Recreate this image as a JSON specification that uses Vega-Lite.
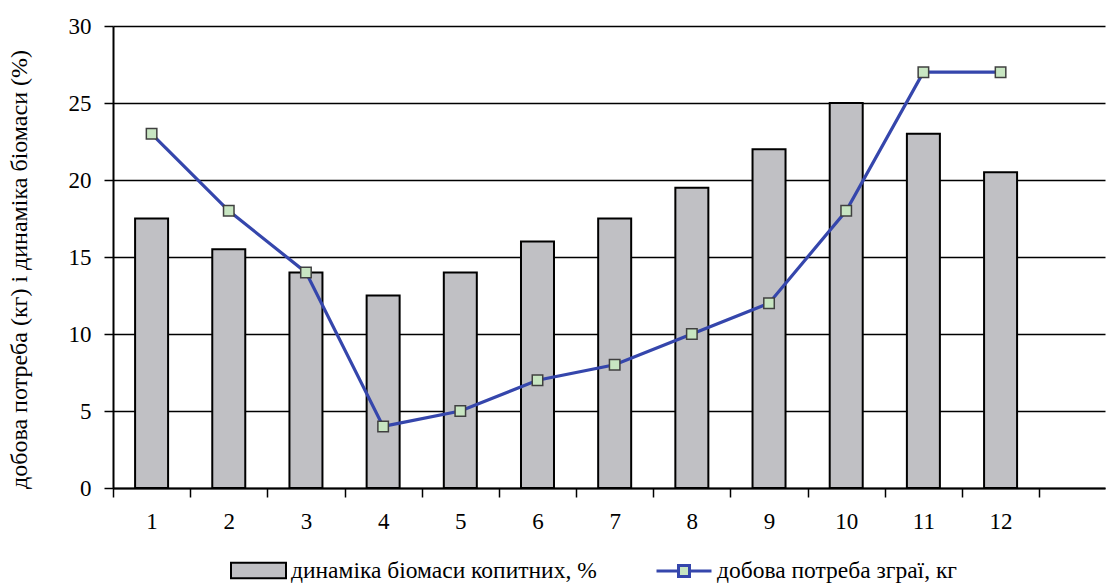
{
  "$schema": "https://vega.github.io/schema/vega-lite/v6.json",
  "width": 992,
  "height": 462,
  "autosize": "none",
  "padding": {"left": 113, "top": 26, "right": 6, "bottom": 95},
  "background": "white",
  "config": {
    "font": "Liberation Serif",
    "view": {"stroke": null},
    "axis": {
      "labelFont": "Liberation Serif",
      "titleFont": "Liberation Serif",
      "labelColor": "black",
      "labelFontSize": 23,
      "titleColor": "black",
      "titleFontSize": 24,
      "titleFontWeight": "normal",
      "domainColor": "black",
      "domainWidth": 2,
      "tickColor": "black",
      "tickWidth": 1.5,
      "tickSize": 9
    },
    "legend": {"labelFontSize": 23.5, "labelColor": "black", "labelFont": "Liberation Serif", "labelLimit": 0}
  },
  "data": {
    "values": [
      {"x": 1, "bar": 17.5, "need": 23},
      {"x": 2, "bar": 15.5, "need": 18},
      {"x": 3, "bar": 14, "need": 14},
      {"x": 4, "bar": 12.5, "need": 4},
      {"x": 5, "bar": 14, "need": 5},
      {"x": 6, "bar": 16, "need": 7},
      {"x": 7, "bar": 17.5, "need": 8},
      {"x": 8, "bar": 19.5, "need": 10},
      {"x": 9, "bar": 22, "need": 12},
      {"x": 10, "bar": 25, "need": 18},
      {"x": 11, "bar": 23, "need": 27},
      {"x": 12, "bar": 20.5, "need": 27}
    ]
  },
  "layer": [
    {
      "mark": {"type": "bar", "width": 33, "stroke": "black", "strokeWidth": 2},
      "encoding": {
        "x": {
          "field": "x",
          "type": "quantitative",
          "scale": {"domain": [0.5, 13.353], "nice": false, "zero": false, "padding": 0},
          "axis": {
            "title": null,
            "values": [0.5, 1, 1.5, 2, 2.5, 3, 3.5, 4, 4.5, 5, 5.5, 6, 6.5, 7, 7.5, 8, 8.5, 9, 9.5, 10, 10.5, 11, 11.5, 12, 12.5],
            "labelExpr": "datum.value % 1 === 0 ? format(datum.value, 'd') : ''",
            "tickOpacity": {"condition": {"test": "datum.value % 1 === 0", "value": 0}, "value": 1},
            "grid": false,
            "labelPadding": 13,
            "labelFlush": false,
            "labelOverlap": false
          }
        },
        "y": {
          "field": "bar",
          "type": "quantitative",
          "scale": {"domain": [0, 30], "nice": false},
          "axis": {
            "title": "добова потреба (кг) і динаміка біомаси (%)",
            "values": [0, 5, 10, 15, 20, 25, 30],
            "grid": true,
            "gridColor": "black",
            "gridWidth": 1.5,
            "gridOpacity": 1,
            "labelPadding": 13,
            "titlePadding": 37,
            "titleY": 243
          }
        },
        "fill": {
          "datum": "динаміка біомаси копитних, %",
          "scale": {"range": ["#c0c0c4"]},
          "legend": {
            "title": null,
            "orient": "none",
            "legendX": 117,
            "legendY": 516,
            "symbolType": "M-1,-0.28H1V0.28H-1Z",
            "symbolSize": 3025,
            "symbolStrokeColor": "black",
            "symbolStrokeWidth": 2,
            "symbolOpacity": 1
          }
        }
      }
    },
    {
      "mark": {"type": "line", "strokeWidth": 3.2},
      "encoding": {
        "x": {"field": "x", "type": "quantitative"},
        "y": {"field": "need", "type": "quantitative"},
        "stroke": {
          "datum": "добова потреба зграї, кг",
          "scale": {"range": ["#3546ac"]},
          "legend": {
            "title": null,
            "orient": "none",
            "legendX": 542,
            "legendY": 516,
            "symbolType": "M-1,0H-0.2M0.2,0H1M-0.2,-0.2H0.2V0.2H-0.2Z",
            "symbolSize": 3025,
            "symbolFillColor": "#c8e6c2",
            "symbolStrokeWidth": 3,
            "symbolOpacity": 1
          }
        }
      }
    },
    {
      "mark": {"type": "point", "shape": "square", "size": 110, "filled": true, "fill": "#c8e6c2", "stroke": "#404040", "strokeWidth": 1.5, "opacity": 1},
      "encoding": {
        "x": {"field": "x", "type": "quantitative"},
        "y": {"field": "need", "type": "quantitative"}
      }
    }
  ]
}
